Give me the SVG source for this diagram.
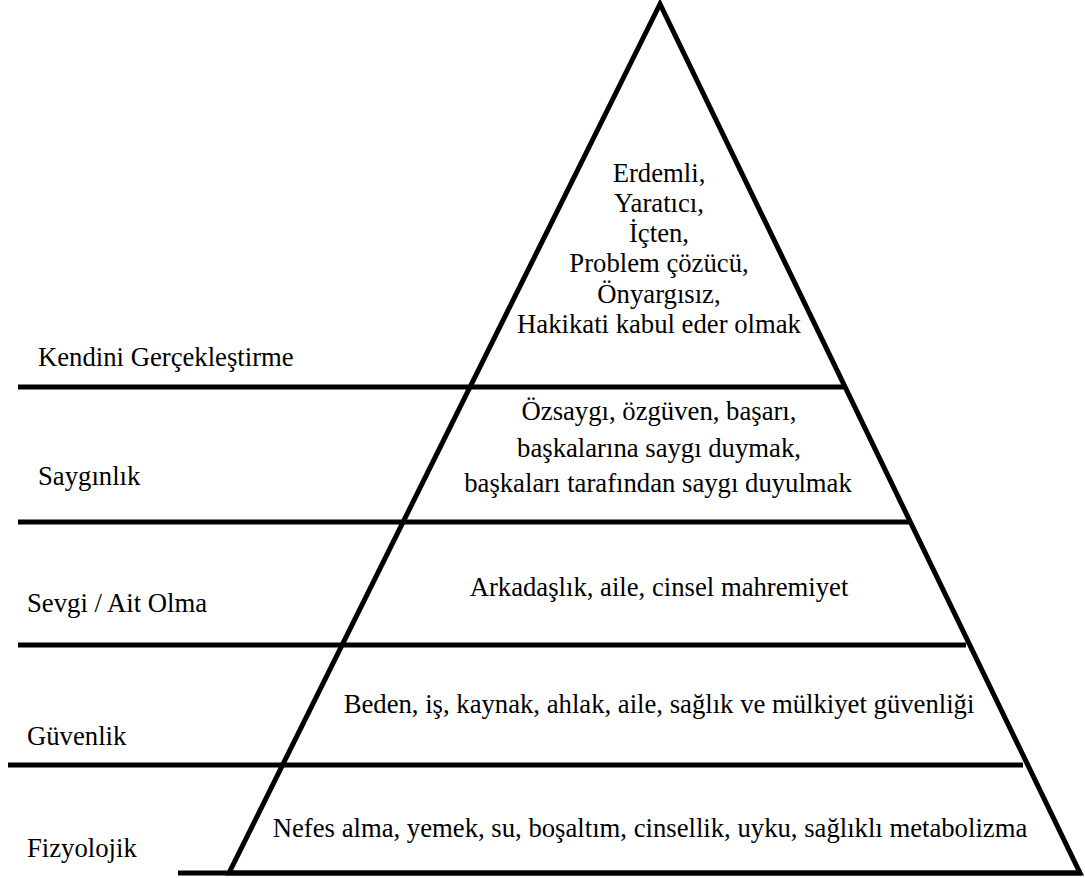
<svg xmlns="http://www.w3.org/2000/svg" width="1085" height="878" viewBox="0 0 1085 878">
<style>
.ln{stroke:#000;stroke-width:5;fill:none;stroke-linejoin:miter}
text{font-family:"Liberation Serif","Times New Roman",serif;font-size:26.7px;fill:#000}
.c{text-anchor:middle}
</style>
<rect width="1085" height="878" fill="#fff"/>
<g id="connectors">
<polygon class="ln" points="660,4 229,873 1080,873"/>
<line class="ln" x1="18" y1="387" x2="846" y2="387"/>
<line class="ln" x1="18" y1="522" x2="910" y2="522"/>
<line class="ln" x1="18" y1="645" x2="966" y2="645"/>
<line class="ln" x1="8" y1="765" x2="1023" y2="765"/>
<line class="ln" x1="178" y1="873" x2="1082" y2="873"/>
</g>
<g id="level-self">
<text x="38" y="366">Kendini Gerçekleştirme</text>
<text class="c" x="659" y="182">Erdemli,</text>
<text class="c" x="659" y="212">Yaratıcı,</text>
<text class="c" x="659" y="242">İçten,</text>
<text class="c" x="659" y="272">Problem çözücü,</text>
<text class="c" x="659" y="303">Önyargısız,</text>
<text class="c" x="659" y="333">Hakikati kabul eder olmak</text>
</g>
<g id="level-esteem">
<text x="38" y="485">Saygınlık</text>
<text class="c" x="659" y="420">Özsaygı, özgüven, başarı,</text>
<text class="c" x="659" y="457">başkalarına saygı duymak,</text>
<text class="c" x="658" y="492">başkaları tarafından saygı duyulmak</text>
</g>
<g id="level-love">
<text x="27" y="612">Sevgi / Ait Olma</text>
<text class="c" x="659" y="596">Arkadaşlık, aile, cinsel mahremiyet</text>
</g>
<g id="level-safety">
<text x="27" y="745">Güvenlik</text>
<text class="c" x="659" y="713">Beden, iş, kaynak, ahlak, aile, sağlık ve mülkiyet güvenliği</text>
</g>
<g id="level-phys">
<text x="27" y="857">Fizyolojik</text>
<text class="c" x="650" y="837">Nefes alma, yemek, su, boşaltım, cinsellik, uyku, sağlıklı metabolizma</text>
</g>
</svg>
